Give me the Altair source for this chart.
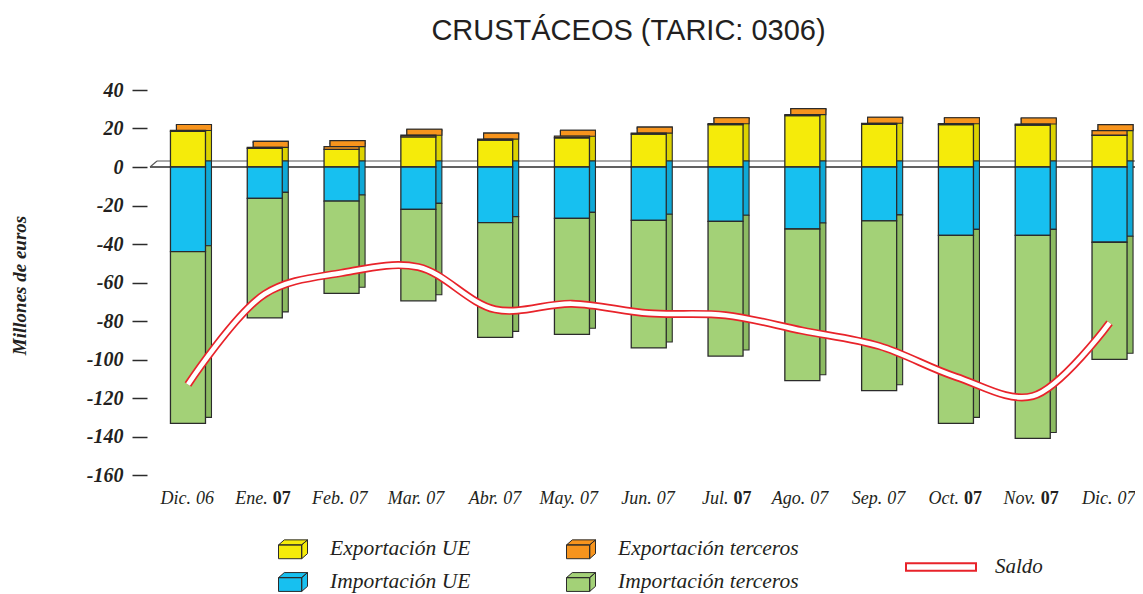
import altair as alt
import pandas as pd

# ---------------- data ----------------
meses = ["Dic.", "Ene.", "Feb.", "Mar.", "Abr.", "May.", "Jun.", "Jul.", "Ago.", "Sep.", "Oct.", "Nov.", "Dic."]
anios = ["06", "07", "07", "07", "07", "07", "07", "07", "07", "07", "07", "07", "07"]
anio_negrita = [False, True, False, False, False, False, False, True, False, False, True, True, False]
categorias = [f"{m} {a}" for m, a in zip(meses, anios)]

series = ["Exportación UE", "Exportación terceros", "Importación UE", "Importación terceros"]
export_ue = [18.5, 9.7, 9.2, 15.7, 14.0, 15.2, 17.1, 22.0, 26.7, 22.2, 22.0, 21.8, 16.5]
export_terceros = [0.5, 0.5, 1.4, 0.8, 0.5, 0.8, 0.5, 0.5, 0.5, 0.5, 0.5, 0.5, 2.4]
import_ue = [-44.0, -16.3, -17.7, -22.0, -28.9, -26.7, -27.7, -28.2, -32.2, -28.0, -35.5, -35.5, -39.1]
import_terceros = [-89.2, -62.1, -47.9, -47.5, -59.6, -60.2, -66.3, -70.0, -78.8, -88.2, -97.7, -105.5, -60.8]
saldo = [-113, -66, -55, -52, -74, -71, -76, -77, -85, -93, -109, -119, -81]
ticks_y = [40, 20, 0, -20, -40, -60, -80, -100, -120, -140, -160]

colores = ["#F5EB0A", "#F7941D", "#17C0F0", "#A3D177"]
colores_lado = ["#DCD200", "#E07F10", "#0FA8D6", "#8CBB62"]

rows = []
for i, c in enumerate(categorias):
    for k, vals in enumerate([export_ue, export_terceros, import_ue, import_terceros]):
        rows.append({"mes": c, "serie": series[k], "valor": vals[i],
                     "orden": k % 2, "lado": colores_lado[k]})
df = pd.DataFrame(rows)

# legend order (column-major layout -> rows: Exp UE / Exp terceros, Imp UE / Imp terceros)
orden_leyenda = [0, 2, 1, 3]
dominio = [series[k] for k in orden_leyenda]
rango = [colores[k] for k in orden_leyenda]

df_saldo = pd.DataFrame({"mes": categorias, "saldo": saldo, "nombre": "Saldo"})
df_lab = pd.DataFrame({"mes": categorias, "m": meses, "a": anios, "b": anio_negrita})
df_one = pd.DataFrame({"k": [0]})

W, H = 985, 385
FONT_SERIF = "Liberation Serif"
INK = "#231F20"
EDGE = "#2B2B2B"

xs = alt.Scale(paddingInner=0.544, paddingOuter=0.185, align=0.72)
X = alt.X("mes:N", sort=categorias, scale=xs, axis=None)
ys = alt.Scale(domain=[-160, 40], nice=False, zero=False)
yaxis = alt.Axis(values=ticks_y, title="Millones de euros",
                 labelExpr="'' + datum.value", labelOverlap=False)

stacked = alt.Chart(df).transform_stack(
    stack="valor", groupby=["mes"], as_=["v0", "v1"], sort=[alt.SortField("orden")]
)

# floor (zero plane)
front_line = alt.Chart(df_one).mark_rule(color=EDGE, strokeWidth=1.3).encode(
    x=alt.value(0), x2=alt.value(W), y=alt.Y(datum=0, scale=ys, axis=yaxis)
)
back_line = alt.Chart(df_one).mark_rule(color="#555555", strokeWidth=1.1, yOffset=-6).encode(
    x=alt.value(7), x2=alt.value(W), y=alt.Y(datum=0, scale=ys, axis=yaxis)
)
slant = alt.Chart(df_one).mark_rule(color="#555555", strokeWidth=1.1, y2Offset=-6).encode(
    x=alt.value(0), x2=alt.value(7), y=alt.Y(datum=0, scale=ys, axis=yaxis), y2=alt.Y2(datum=0)
)

# side faces (shifted back boxes)
back = stacked.mark_bar(xOffset=6, yOffset=-6, y2Offset=-6, stroke=EDGE, strokeWidth=1.1).encode(
    x=X, y=alt.Y("v0:Q", scale=ys, axis=yaxis), y2="v1:Q",
    color=alt.Color("lado:N", scale=None, legend=None),
)
# top faces
cap = alt.Chart(df).transform_filter("datum.valor > 0").transform_aggregate(
    tot="sum(valor)", groupby=["mes"]
).mark_bar(xOffset=6, yOffset=-6, color="#F7941D", stroke=EDGE, strokeWidth=1.1).encode(
    x=X, y=alt.Y("tot:Q", scale=ys, axis=yaxis), y2="tot:Q"
)

box_path = ("M-1,-0.3L0.6,-0.3L0.6,0.65L-1,0.65Z "
            "M-1,-0.3L-0.6,-0.65L1,-0.65L0.6,-0.3Z "
            "M0.6,-0.3L1,-0.65L1,0.3L0.6,0.65Z")

front = stacked.mark_bar(stroke=EDGE, strokeWidth=1.3).encode(
    x=X, y=alt.Y("v0:Q", scale=ys, axis=yaxis), y2="v1:Q",
    fill=alt.Fill("serie:N", scale=alt.Scale(domain=dominio, range=rango),
                  legend=alt.Legend(
                      title=None, orient="none", legendX=128, legendY=444,
                      columns=2, columnPadding=93, rowPadding=6, padding=0,
                      symbolType=box_path, symbolSize=841, symbolStrokeColor=EDGE,
                      symbolStrokeWidth=1, symbolOpacity=1,
                      labelFont=FONT_SERIF, labelFontStyle="italic", labelFontSize=21.5,
                      labelColor=INK, labelOffset=22, labelLimit=300,
                  )),
)

line_red = alt.Chart(df_saldo).mark_line(strokeWidth=8, interpolate="catmull-rom", strokeCap="butt").encode(
    x=X, y=alt.Y("saldo:Q", scale=ys, axis=yaxis),
    stroke=alt.Stroke("nombre:N", scale=alt.Scale(domain=["Saldo"], range=["#E8232A"]),
                      legend=alt.Legend(
                          title=None, orient="none", legendX=755, legendY=441, padding=0,
                          symbolType="M-1,-0.11L1,-0.11L1,0.11L-1,0.11Z", symbolSize=4900,
                          symbolFillColor="white", symbolStrokeWidth=2,
                          labelFont=FONT_SERIF, labelFontStyle="italic", labelFontSize=21,
                          labelColor=INK, labelOffset=18, labelLimit=200,
                      )),
)
line_white = alt.Chart(df_saldo).mark_line(strokeWidth=4.6, color="white", interpolate="catmull-rom", strokeCap="butt").encode(
    x=X, y=alt.Y("saldo:Q", scale=ys, axis=yaxis)
)

# x labels (month italic, year sometimes bold)
YL = alt.Y(datum=-160, scale=ys, axis=yaxis)
lab_base = alt.Chart(df_lab)
lab_m = lab_base.mark_text(align="right", baseline="top", dx=3, dy=15, font=FONT_SERIF,
                           fontStyle="italic", fontSize=18, color=INK).encode(
    x=X, y=YL, text="m:N")
lab_a = lab_base.transform_filter("!datum.b").mark_text(
    align="left", baseline="top", dx=8, dy=15, font=FONT_SERIF,
    fontStyle="italic", fontSize=18, color=INK).encode(x=X, y=YL, text="a:N")
lab_ab = lab_base.transform_filter("datum.b").mark_text(
    align="left", baseline="top", dx=8, dy=15, font=FONT_SERIF, fontWeight="bold",
    fontStyle="normal", fontSize=18, color=INK).encode(x=X, y=YL, text="a:N")

chart = alt.layer(
    front_line, back_line, slant, back, cap, front, line_red, line_white, lab_m, lab_a, lab_ab
).properties(
    width=W, height=H,
    autosize=alt.AutoSizeParams(type="none"),
    padding={"left": 142, "top": 82, "right": 0, "bottom": 118},
    title=alt.Title("CRUSTÁCEOS (TARIC: 0306)", font="Liberation Sans", fontSize=29,
                    fontWeight="normal", color=INK, offset=34, dx=-14, anchor="middle"),
).configure_view(stroke=None).configure_axisY(
    domain=False, grid=False, tickSize=15, tickColor=EDGE, tickWidth=1.5, offset=3,
    labelFont=FONT_SERIF, labelFontStyle="italic", labelFontWeight="bold", labelFontSize=20,
    labelColor=INK, labelPadding=9,
    titleFont=FONT_SERIF, titleFontStyle="italic", titleFontWeight="bold", titleFontSize=19,
    titleColor=INK, titleAngle=270, titleX=-128, titleY=195, titleAlign="center",
    titleBaseline="middle",
)

chart.save("out.html", embed_options={"renderer": "svg", "actions": False})
